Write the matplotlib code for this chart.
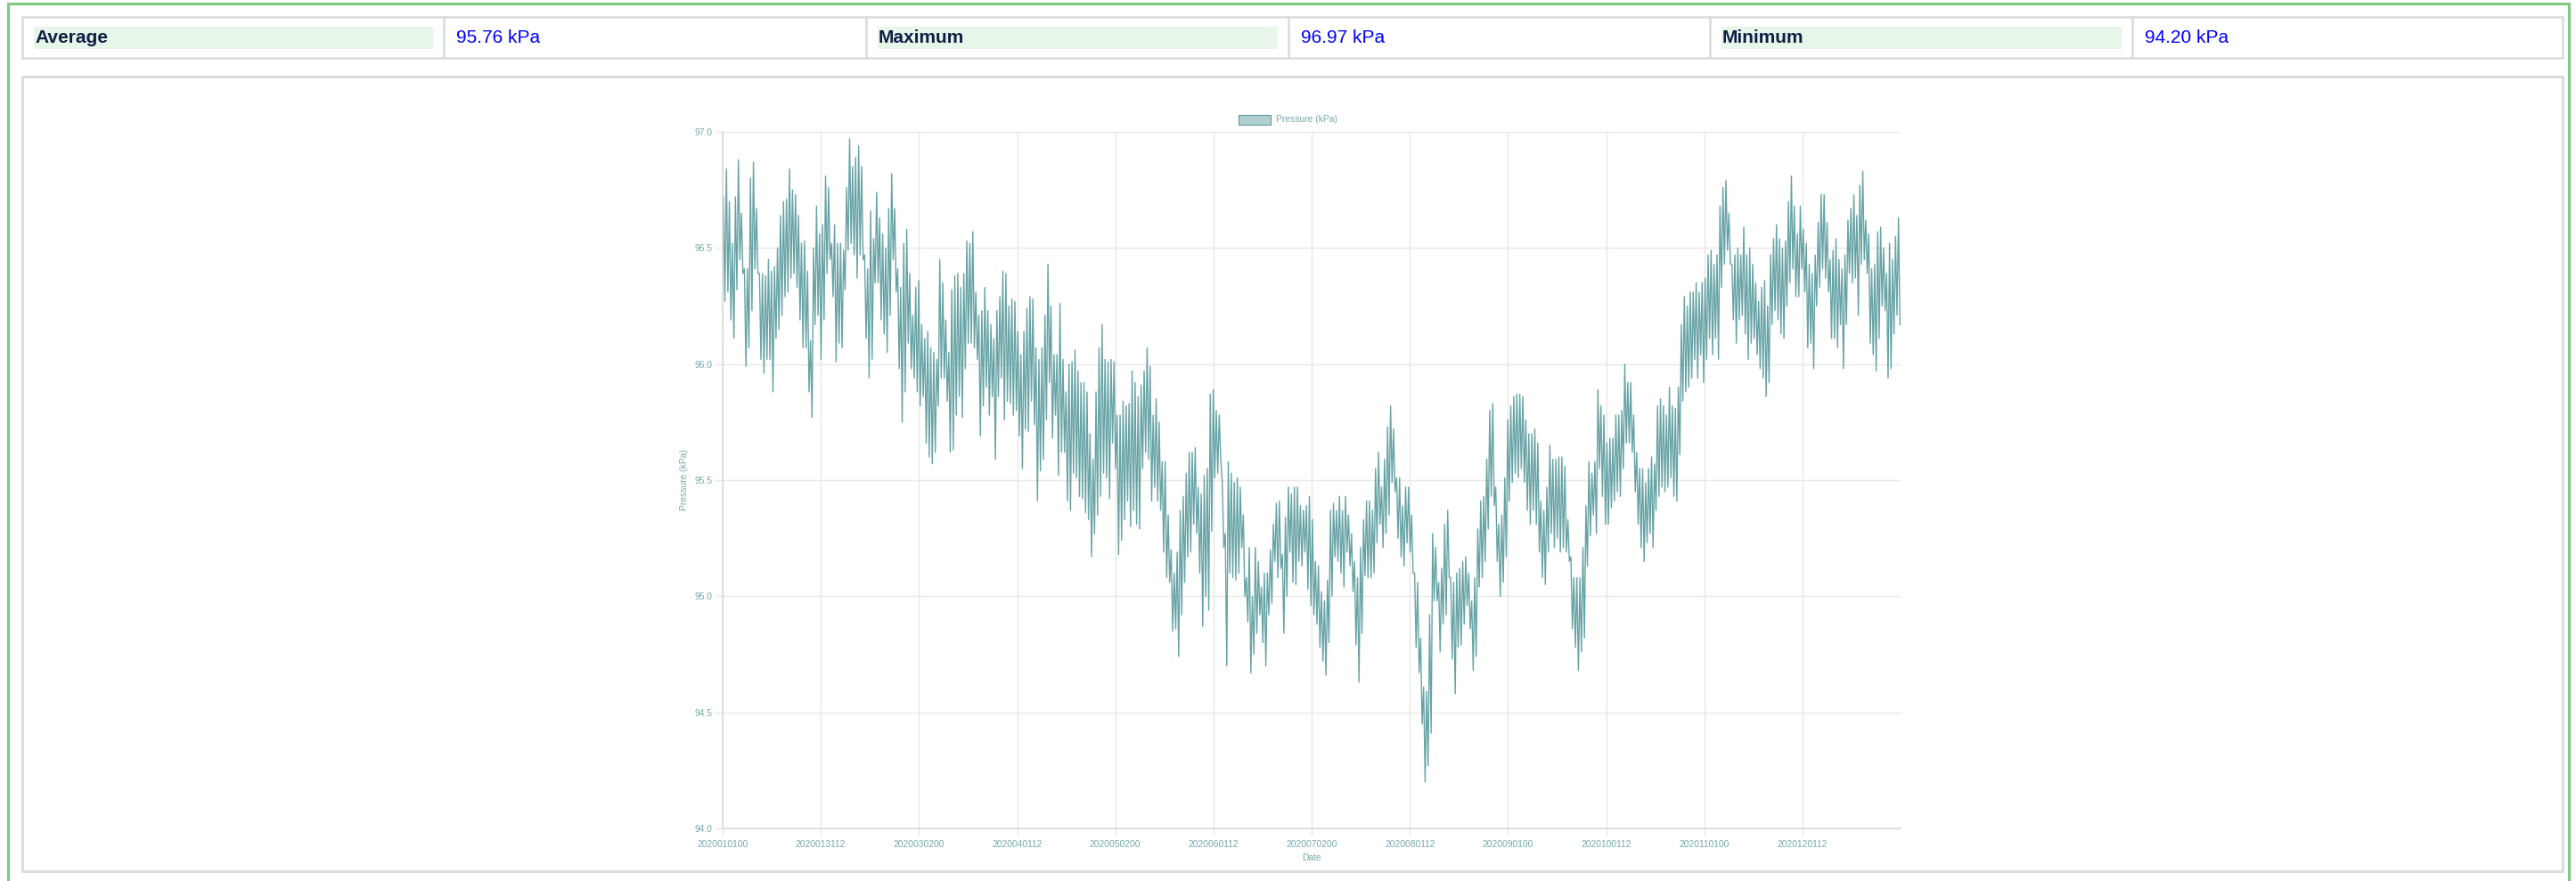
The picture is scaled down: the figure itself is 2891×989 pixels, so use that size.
import numpy as np
import matplotlib.pyplot as plt
from matplotlib.patches import Rectangle

plt.rcParams['font.family'] = ['Liberation Sans', 'DejaVu Sans']

# header table
stat_names = ["Average", "Maximum", "Minimum"]
stat_values = ["95.76 kPa", "96.97 kPa", "94.20 kPa"]

# x axis is one category per hour of 2020, a label is shown every 732 hours
n_hours = 8784
tick_step = 732
tick_labels = ["2020010100", "2020013112", "2020030200", "2020040112",
               "2020050200", "2020060112", "2020070200", "2020080112",
               "2020090100", "2020100112", "2020110100", "2020120112"]

# pressure (kPa): daily-ish peaks and dips, one quarter per list
q1_high = [96.72, 96.84, 96.70, 96.52, 96.72, 96.88, 96.65, 96.41, 96.41, 96.80,
           96.87, 96.67, 96.39, 96.39, 96.38, 96.45, 96.40, 96.42, 96.50, 96.64,
           96.70, 96.71, 96.84, 96.75, 96.73, 96.64, 96.52, 96.53, 96.40, 96.10,
           96.50, 96.68, 96.56, 96.60, 96.81, 96.76, 96.52, 96.60, 96.52, 96.52,
           96.49, 96.76, 96.97, 96.85, 96.89, 96.94, 96.85, 96.47, 96.41, 96.66,
           96.54, 96.74, 96.63, 96.56, 96.50, 96.67, 96.82, 96.67, 96.41, 96.33,
           96.52, 96.58, 96.39, 96.21, 96.33, 96.36, 96.17, 96.11, 96.14, 96.07,
           96.05, 96.02, 96.45, 96.35, 96.19, 96.05, 96.32, 96.38, 96.39, 96.33,
           96.39, 96.53, 96.52, 96.57, 96.31, 96.21, 96.23, 96.33, 96.23, 96.17,
           96.11, 96.23, 96.29, 96.40, 96.39, 96.25, 96.28, 96.27]
q1_low = [96.27, 96.31, 96.19, 96.11, 96.32, 96.45, 96.39, 95.99, 96.07, 96.23,
          96.41, 96.39, 96.02, 95.96, 96.02, 96.02, 95.88, 96.11, 96.15, 96.21,
          96.29, 96.31, 96.37, 96.39, 96.33, 96.19, 96.07, 96.07, 95.88, 95.77,
          96.17, 96.21, 96.02, 96.19, 96.39, 96.45, 96.29, 96.01, 96.09, 96.07,
          96.32, 96.49, 96.52, 96.47, 96.37, 96.47, 96.45, 96.11, 95.94, 96.02,
          96.35, 96.35, 96.19, 96.13, 96.05, 96.21, 96.45, 96.31, 95.98, 95.75,
          95.88, 96.09, 95.98, 95.94, 95.88, 95.82, 95.86, 95.66, 95.60, 95.57,
          95.62, 95.82, 95.94, 95.94, 95.84, 95.62, 95.63, 95.78, 95.86, 95.77,
          95.98, 96.09, 96.09, 96.07, 96.02, 95.69, 95.82, 95.90, 95.78, 95.86,
          95.59, 95.86, 95.94, 95.76, 95.84, 95.83, 95.78, 95.80]

q2_high = [96.14, 96.04, 96.14, 96.24, 96.29, 96.28, 96.07, 96.02, 96.07, 96.21,
           96.43, 96.25, 96.04, 96.04, 96.26, 96.02, 95.88, 96.00, 96.01, 96.06,
           95.97, 95.92, 95.92, 95.88, 95.70, 95.59, 95.88, 96.07, 96.17, 96.02,
           96.01, 96.02, 96.01, 95.78, 95.78, 95.84, 95.82, 95.83, 95.97, 95.92,
           95.86, 95.91, 95.97, 96.07, 95.99, 95.78, 95.85, 95.75, 95.58, 95.58,
           95.35, 95.20, 95.10, 95.19, 95.37, 95.43, 95.53, 95.62, 95.62, 95.64,
           95.47, 95.44, 95.52, 95.55, 95.87, 95.89, 95.80, 95.78, 95.49, 95.27,
           95.58, 95.53, 95.49, 95.51, 95.47, 95.35, 95.08, 95.21, 95.00, 95.21,
           95.15, 95.04, 95.10, 95.10, 95.20, 95.31, 95.40, 95.41, 95.18, 95.34,
           95.47, 95.44, 95.47, 95.47, 95.39, 95.37, 95.39, 95.43]
q2_low = [95.69, 95.55, 95.72, 95.71, 95.84, 95.74, 95.41, 95.54, 95.59, 95.76,
          95.92, 95.68, 95.78, 95.52, 95.62, 95.62, 95.41, 95.37, 95.53, 95.51,
          95.43, 95.42, 95.36, 95.33, 95.17, 95.27, 95.35, 95.43, 95.53, 95.51,
          95.42, 95.66, 95.55, 95.18, 95.24, 95.33, 95.41, 95.30, 95.37, 95.31,
          95.29, 95.55, 95.62, 95.59, 95.41, 95.47, 95.41, 95.37, 95.19, 95.08,
          95.06, 94.85, 94.86, 94.74, 94.92, 95.06, 95.17, 95.19, 95.31, 95.27,
          95.10, 94.87, 95.00, 94.94, 95.28, 95.51, 95.53, 95.59, 95.21, 94.70,
          95.10, 95.08, 95.07, 95.10, 95.21, 95.00, 94.89, 94.67, 94.75, 94.84,
          94.92, 94.80, 94.70, 94.92, 94.97, 95.15, 95.08, 95.12, 94.84, 95.00,
          95.19, 95.06, 95.05, 95.15, 95.13, 95.19, 95.03, 94.96]

q3_high = [95.33, 95.15, 95.13, 95.02, 94.98, 95.07, 95.37, 95.40, 95.37, 95.43,
           95.37, 95.43, 95.35, 95.27, 95.15, 95.08, 95.21, 95.33, 95.41, 95.41,
           95.37, 95.55, 95.62, 95.47, 95.59, 95.73, 95.82, 95.72, 95.51, 95.51,
           95.39, 95.47, 95.47, 95.35, 95.10, 95.06, 94.82, 94.61, 94.59, 94.92,
           95.27, 95.21, 95.06, 95.12, 95.31, 95.37, 95.08, 95.06, 95.10, 95.12,
           95.15, 95.17, 95.10, 94.98, 95.08, 95.29, 95.41, 95.43, 95.59, 95.80,
           95.83, 95.47, 95.31, 95.35, 95.51, 95.76, 95.82, 95.86, 95.87, 95.87,
           95.86, 95.76, 95.70, 95.70, 95.72, 95.66, 95.41, 95.37, 95.47, 95.65,
           95.59, 95.59, 95.60, 95.60, 95.56, 95.33, 95.17, 95.08, 95.08, 95.08,
           95.21, 95.39, 95.58, 95.53, 95.58, 95.89, 95.82, 95.78]
q3_low = [94.92, 94.88, 94.78, 94.72, 94.66, 94.80, 95.00, 95.17, 95.15, 95.10,
          95.04, 95.19, 95.13, 95.02, 94.79, 94.63, 94.84, 95.09, 95.08, 95.08,
          95.10, 95.23, 95.31, 95.21, 95.27, 95.35, 95.49, 95.45, 95.25, 95.17,
          95.13, 95.23, 95.19, 95.10, 94.78, 94.67, 94.45, 94.20, 94.27, 94.41,
          94.98, 94.98, 94.76, 94.88, 94.92, 95.08, 94.73, 94.58, 94.78, 94.79,
          94.88, 94.96, 94.86, 94.68, 94.74, 95.04, 95.08, 95.15, 95.29, 95.43,
          95.39, 95.15, 95.00, 95.06, 95.17, 95.41, 95.49, 95.53, 95.51, 95.55,
          95.49, 95.37, 95.31, 95.37, 95.31, 95.19, 95.08, 95.05, 95.19, 95.27,
          95.21, 95.25, 95.19, 95.21, 95.19, 95.15, 94.86, 94.78, 94.68, 94.76,
          94.82, 95.13, 95.26, 95.35, 95.27, 95.55, 95.43, 95.31]

q4_high = [95.66, 95.68, 95.68, 95.78, 95.78, 95.80, 96.00, 95.92, 95.92, 95.78,
           95.62, 95.55, 95.55, 95.49, 95.55, 95.60, 95.57, 95.82, 95.85, 95.82,
           95.78, 95.90, 95.82, 95.81, 95.90, 96.17, 96.29, 96.25, 96.31, 96.31,
           96.35, 96.31, 96.35, 96.37, 96.47, 96.49, 96.43, 96.47, 96.68, 96.76,
           96.79, 96.65, 96.43, 96.47, 96.50, 96.47, 96.59, 96.47, 96.50, 96.43,
           96.35, 96.27, 96.33, 96.36, 96.25, 96.47, 96.54, 96.60, 96.54, 96.50,
           96.53, 96.70, 96.81, 96.68, 96.56, 96.68, 96.58, 96.52, 96.43, 96.39,
           96.47, 96.61, 96.73, 96.73, 96.61, 96.45, 96.49, 96.54, 96.45, 96.41,
           96.47, 96.62, 96.67, 96.73, 96.64, 96.77, 96.83, 96.62, 96.56, 96.41,
           96.43, 96.57, 96.59, 96.50, 96.39, 96.52, 96.45, 96.55, 96.63]
q4_low = [95.31, 95.38, 95.41, 95.45, 95.43, 95.55, 95.66, 95.66, 95.62, 95.45,
          95.31, 95.21, 95.15, 95.23, 95.27, 95.21, 95.37, 95.43, 95.47, 95.45,
          95.47, 95.51, 95.43, 95.41, 95.61, 95.84, 95.88, 95.90, 95.94, 96.02,
          95.94, 96.04, 95.92, 96.02, 96.11, 96.04, 96.11, 96.02, 96.33, 96.43,
          96.49, 96.43, 96.19, 96.09, 96.19, 96.21, 96.13, 96.02, 96.09, 96.11,
          96.04, 95.98, 95.94, 95.86, 95.92, 96.17, 96.23, 96.19, 96.13, 96.11,
          96.25, 96.35, 96.41, 96.29, 96.29, 96.41, 96.31, 96.07, 96.09, 95.98,
          96.25, 96.33, 96.41, 96.37, 96.31, 96.11, 96.11, 96.07, 96.17, 95.98,
          96.17, 96.39, 96.35, 96.37, 96.21, 96.43, 96.45, 96.39, 96.09, 96.04,
          95.97, 96.11, 96.25, 96.23, 95.94, 95.98, 96.13, 96.21, 96.17]

# put peaks and dips in time order, each quarter covers 3 label steps
quarters = [(q1_high, q1_low), (q2_high, q2_low), (q3_high, q3_low), (q4_high, q4_low)]
hours = []
pressure = []
for q, (hi, lo) in enumerate(quarters):
    start = q * 3 * tick_step
    w = 3 * tick_step / len(hi)
    for i in range(len(hi)):
        hours += [start + (i + 0.25) * w, start + (i + 0.75) * w]
        pressure += [hi[i], lo[i]]

W, H = 2891, 989
line_color = '#5f9ea0'
tick_color = '#77a9aa'
grid_color = '#e8e8e8'

fig = plt.figure(figsize=(W / 100, H / 100), dpi=100)


def box(x0, y0, x1, y1, **kw):
    # rectangle given in pixel coords from the top left corner
    fig.patches.append(Rectangle((x0 / W, 1 - y1 / H), (x1 - x0) / W, (y1 - y0) / H,
                                 transform=fig.transFigure, **kw))


def label(x, y, s, **kw):
    fig.text(x / W, 1 - y / H, s, **kw)


# outer green frame and chart panel (kept under the axes)
box(9, 4, 2883, 1010, fill=False, edgecolor='#80c883', lw=2.2, zorder=-2)
box(25, 86, 2876, 978, facecolor='white', edgecolor='#dcdcdc', lw=2.2, zorder=-2)

# header table
dividers = [25, 498, 972, 1446, 1919, 2393, 2876]
box(25, 19, 2876, 65, facecolor='white', edgecolor='#dadada', lw=1.8, zorder=-2)
for x in dividers[1:-1]:
    fig.add_artist(plt.Line2D([x / W, x / W], [1 - 19 / H, 1 - 65 / H],
                              transform=fig.transFigure, color='#dadada', lw=1.8))
for k in range(3):
    left = dividers[2 * k]
    mid = dividers[2 * k + 1]
    box(left + 13, 30, mid - 12, 55, facecolor='#e8f5e9', edgecolor='none', zorder=-1)
    label(left + 14, 43, stat_names[k], fontsize=15, fontweight='bold',
          color='#0d1f45', va='center', ha='left')
    label(mid + 14, 43, stat_values[k], fontsize=15, color='#0000ff',
          va='center', ha='left')

# plot area
ax = fig.add_axes([811 / W, 1 - 930 / H, (2133 - 811) / W, (930 - 148) / H])
ax.set_zorder(3)
ax.patch.set_alpha(0)
ax.plot(hours, pressure, color=line_color, lw=1.0, alpha=0.95)
ax.set_xlim(0, n_hours - 1)
ax.set_ylim(94.0, 97.0)
ax.set_xticks(np.arange(len(tick_labels)) * tick_step)
ax.set_xticklabels(tick_labels)
yt = np.arange(94.0, 97.01, 0.5)
ax.set_yticks(yt)
ax.set_yticklabels(["%.1f" % v for v in yt])
ax.grid(True, color=grid_color, lw=1.0)
ax.set_axisbelow(True)
for side in ['top', 'right']:
    ax.spines[side].set_visible(False)
for side in ['left', 'bottom']:
    ax.spines[side].set_color('#dadada')
    ax.spines[side].set_linewidth(1.2)
ax.tick_params(axis='both', length=6, width=1.0, color=grid_color,
               labelcolor=tick_color, labelsize=7.4)
ax.tick_params(axis='x', pad=3.5)
ax.tick_params(axis='y', pad=2.5)

# axis titles and legend
label(768, 539, "Pressure (kPa)", rotation=90, fontsize=7.4, color=tick_color,
      ha='center', va='center')
label(1472, 963, "Date", fontsize=7.4, color=tick_color, ha='center', va='center')
box(1390, 129, 1426, 140, facecolor='#afcfd0', edgecolor=line_color, lw=0.8)
label(1432, 134.5, "Pressure (kPa)", fontsize=7.4, color=tick_color,
      ha='left', va='center')

fig.savefig('out.png', dpi=100)
